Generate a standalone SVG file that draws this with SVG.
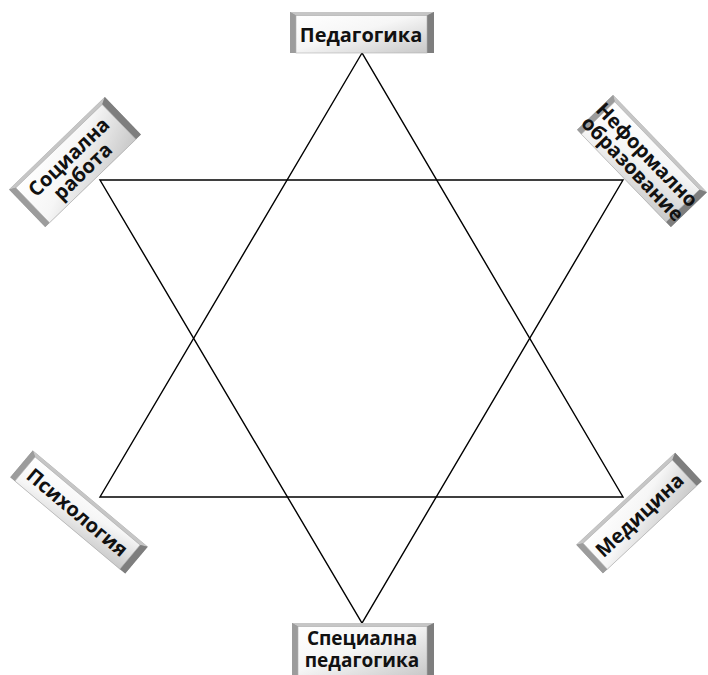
<svg xmlns="http://www.w3.org/2000/svg" width="708" height="675" viewBox="0 0 708 675">
<style>
.edge{fill:none;stroke:#000;stroke-width:1.4;stroke-linejoin:miter}
.outer{fill:#9a9a9a}
.ftop{fill:#c6c6c6}
.fleft{fill:#9c9c9c}
.fright{fill:#7e7e7e}
.face{fill:url(#faceGrad);stroke:#b0b0b0;stroke-width:0.6}
.lbl{font-family:"Open Sans","DejaVu Sans",sans-serif;font-weight:bold;font-size:20px;fill:#111;text-anchor:middle}
.sm{font-size:19px}
</style>
<defs>
<linearGradient id="faceGrad" x1="0" y1="0" x2="1" y2="1">
<stop offset="0" stop-color="#ffffff"/>
<stop offset="0.45" stop-color="#f6f6f6"/>
<stop offset="1" stop-color="#c8c8c8"/>
</linearGradient>
</defs>
<rect width="708" height="675" fill="#fff"/>
<g id="connectors">
<polygon class="edge" points="362,53 100,497 623,497"/>
<polygon class="edge" points="100,180 623,180 362,623"/>
</g>
<g id="pedagogika" transform="translate(362,32.5)">
<rect class="outer" x="-72" y="-20.5" width="144" height="41"/>
<polygon class="ftop" points="-72,-20.5 72,-20.5 65,-17 -66,-17"/>
<polygon class="fleft" points="-72,-20.5 -66,-17 -66,20.5 -72,20.5"/>
<polygon class="fright" points="72,-20.5 72,20.5 65,20.5 65,-17"/>
<rect class="face" x="-66" y="-17" width="131" height="37.5"/>
<text class="lbl" x="-1" y="9">Педагогика</text>
</g>
<g id="specialna" transform="translate(363,649.5)">
<rect class="outer" x="-71" y="-26.5" width="142" height="53"/>
<polygon class="ftop" points="-71,-26.5 71,-26.5 64,-23 -65,-23"/>
<polygon class="fleft" points="-71,-26.5 -65,-23 -65,26.5 -71,26.5"/>
<polygon class="fright" points="71,-26.5 71,26.5 64,26.5 64,-23"/>
<rect class="face" x="-65" y="-23" width="129" height="49.5"/>
<text class="lbl sm" x="-1" y="-5">Специална</text>
<text class="lbl sm" x="-1" y="17">педагогика</text>
</g>
<g id="socialna" transform="translate(75,162) rotate(-44)">
<rect class="outer" x="-66.5" y="-26" width="133" height="52"/>
<polygon class="ftop" points="-66.5,-26 66.5,-26 59.5,-22.5 -60.5,-22.5"/>
<polygon class="fleft" points="-66.5,-26 -60.5,-22.5 -60.5,26 -66.5,26"/>
<polygon class="fright" points="66.5,-26 66.5,26 59.5,26 59.5,-22.5"/>
<rect class="face" x="-60.5" y="-22.5" width="120" height="48.5"/>
<text class="lbl" x="-1" y="-1">Социална</text>
<text class="lbl" x="-1" y="19">работа</text>
</g>
<g id="neformalno" transform="translate(642,161) rotate(46)">
<rect class="outer" x="-67.5" y="-25" width="135" height="50"/>
<polygon class="ftop" points="-67.5,-25 67.5,-25 60.5,-21.5 -61.5,-21.5"/>
<polygon class="fleft" points="-67.5,-25 -61.5,-21.5 -61.5,25 -67.5,25"/>
<polygon class="fright" points="67.5,-25 67.5,25 60.5,25 60.5,-21.5"/>
<rect class="face" x="-61.5" y="-21.5" width="122" height="46.5"/>
<text class="lbl" x="-1" y="-1">Неформално</text>
<text class="lbl" x="-1" y="19">образование</text>
</g>
<g id="psihologia" transform="translate(79,512) rotate(40)">
<rect class="outer" x="-75" y="-17.5" width="150" height="35"/>
<polygon class="ftop" points="-75,-17.5 75,-17.5 68,-14 -69,-14"/>
<polygon class="fleft" points="-75,-17.5 -69,-14 -69,17.5 -75,17.5"/>
<polygon class="fright" points="75,-17.5 75,17.5 68,17.5 68,-14"/>
<rect class="face" x="-69" y="-14" width="137" height="31.5"/>
<text class="lbl" x="-1" y="8.5">Психология</text>
</g>
<g id="medicina" transform="translate(639,513) rotate(-43)">
<rect class="outer" x="-67.5" y="-19.5" width="135" height="39"/>
<polygon class="ftop" points="-67.5,-19.5 67.5,-19.5 60.5,-16 -61.5,-16"/>
<polygon class="fleft" points="-67.5,-19.5 -61.5,-16 -61.5,19.5 -67.5,19.5"/>
<polygon class="fright" points="67.5,-19.5 67.5,19.5 60.5,19.5 60.5,-16"/>
<rect class="face" x="-61.5" y="-16" width="122" height="35.5"/>
<text class="lbl" x="-1" y="9">Медицина</text>
</g>
</svg>
